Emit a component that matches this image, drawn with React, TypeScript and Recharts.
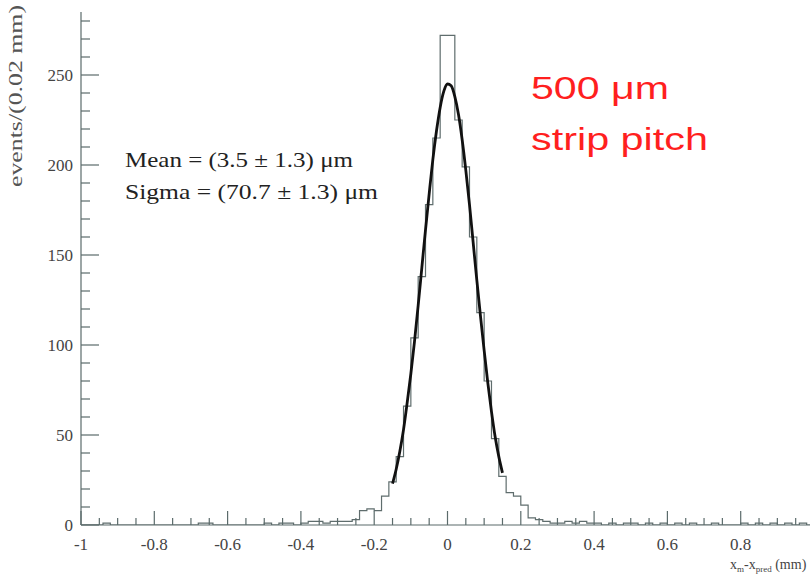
import React from 'react';
import { LineChart, Line, XAxis, YAxis } from 'recharts';

// histogram: 100 bins of 0.02 mm, left edges from -1.00 to 0.98
const binStart = -1;
const binWidth = 0.02;
const binCounts = [
  0, 0, 0, 1, 0, 0, 0, 0, 0, 0,
  0, 0, 0, 0, 0, 0, 1, 1, 0, 0,
  0, 0, 0, 0, 0, 1, 0, 1, 1, 0,
  1, 2, 2, 1, 2, 2, 2, 3, 8, 9,
  8, 16, 24, 38, 66, 104, 138, 178, 215, 272,
  272, 225, 199, 160, 118, 80, 48, 27, 18, 16,
  11, 4, 3, 2, 1, 1, 2, 1, 2, 1,
  1, 0, 1, 0, 1, 1, 0, 1, 0, 1,
  0, 1, 0, 1, 0, 0, 1, 0, 0, 0,
  1, 0, 1, 0, 1, 0, 1, 0, 1, 0,
];

// gaussian fit curve
const fitX = [
  -0.15, -0.14, -0.13, -0.12, -0.11, -0.1, -0.09, -0.08, -0.07, -0.06, -0.05, -0.04, -0.03, -0.02, -0.01,
  0, 0.01, 0.02, 0.03, 0.04, 0.05, 0.06, 0.07, 0.08, 0.09, 0.1, 0.11, 0.12, 0.13, 0.14, 0.15,
];
const fitY = [
  23, 31, 41, 53, 68, 84, 102, 122, 143, 164, 184, 203, 219, 232, 241,
  245, 244, 238, 228, 214, 197, 178, 157, 136, 116, 97, 79, 63, 49, 38, 29,
];

const xTicks = [
  -1, -0.95, -0.9, -0.85, -0.8, -0.75, -0.7, -0.65, -0.6, -0.55, -0.5, -0.45, -0.4, -0.35, -0.3, -0.25, -0.2, -0.15, -0.1, -0.05,
  0, 0.05, 0.1, 0.15, 0.2, 0.25, 0.3, 0.35, 0.4, 0.45, 0.5, 0.55, 0.6, 0.65, 0.7, 0.75, 0.8, 0.85, 0.9, 0.95, 1,
];
const xLabels = [-1, -0.8, -0.6, -0.4, -0.2, 0, 0.2, 0.4, 0.6, 0.8];
const yTicks = [0, 10, 20, 30, 40, 50, 60, 70, 80, 90, 100, 110, 120, 130, 140, 150, 160, 170, 180, 190, 200, 210, 220, 230, 240, 250, 260, 270, 280];

const histData = binCounts.map((c, i) => ({ x: Math.round((binStart + i * binWidth) * 100) / 100, y: c }));
histData.push({ x: 1, y: binCounts[binCounts.length - 1] });
const fitData = fitX.map((x, i) => ({ x, y: fitY[i] }));

const AXIS = '#5b6b6b';
const SERIF = '"Liberation Serif", "DejaVu Serif", serif';
const SANS = '"Liberation Sans", Arial, sans-serif';

const isMajorX = (v: number) => Math.abs(v * 5 - Math.round(v * 5)) < 1e-6;
const isMajorY = (v: number) => v % 50 === 0;

const BottomTick = (p: any) => {
  const v = p.payload.value;
  const major = isMajorX(v);
  const label = xLabels.find((l) => Math.abs(l - v) < 1e-6);
  return (
    <g>
      <line x1={p.x} x2={p.x} y1={p.y} y2={p.y - (major ? 14 : 7)} stroke={AXIS} strokeWidth={1.2} />
      {label !== undefined && (
        <text x={p.x} y={p.y + 25} textAnchor="middle" fontFamily={SERIF} fontSize={17} fill="#444">
          {String(label)}
        </text>
      )}
    </g>
  );
};

const TopTick = (p: any) => {
  const major = isMajorX(p.payload.value);
  return <line x1={p.x} x2={p.x} y1={p.y} y2={p.y + (major ? 14 : 7)} stroke={AXIS} strokeWidth={1.2} />;
};

const LeftTick = (p: any) => {
  const v = p.payload.value;
  const major = isMajorY(v);
  return (
    <g>
      <line x1={p.x} x2={p.x + (major ? 18 : 9)} y1={p.y} y2={p.y} stroke={AXIS} strokeWidth={1.2} />
      {major && (
        <text x={p.x - 8} y={p.y + 6} textAnchor="end" fontFamily={SERIF} fontSize={17} fill="#444">
          {v}
        </text>
      )}
    </g>
  );
};

const RightTick = (p: any) => {
  const major = isMajorY(p.payload.value);
  return <line x1={p.x} x2={p.x - (major ? 18 : 9)} y1={p.y} y2={p.y} stroke={AXIS} strokeWidth={1.2} />;
};

export default function App() {
  return (
    <div style={{ width: 810, height: 574, overflow: 'hidden', background: '#fff' }}>
      <style>{'body{margin:0}'}</style>
      <LineChart width={830} height={574} margin={{ top: 12, right: 16, bottom: 0, left: 41 }}>
        <XAxis
          dataKey="x"
          type="number"
          domain={[-1, 1]}
          ticks={xTicks}
          interval={0}
          tickSize={0}
          tickMargin={0}
          tick={BottomTick}
          height={49}
          allowDataOverflow
          axisLine={{ stroke: AXIS, strokeWidth: 1.2 }}
        />
        <XAxis
          xAxisId="top"
          orientation="top"
          type="number"
          domain={[-1, 1]}
          ticks={xTicks}
          interval={0}
          tickSize={0}
          tickMargin={0}
          tick={TopTick}
          height={0}
          allowDataOverflow
          axisLine={{ stroke: AXIS, strokeWidth: 1.2 }}
        />
        <YAxis
          type="number"
          domain={[0, 285]}
          ticks={yTicks}
          interval={0}
          tickSize={0}
          tickMargin={0}
          tick={LeftTick}
          width={40}
          allowDataOverflow
          axisLine={{ stroke: AXIS, strokeWidth: 1.2 }}
        />
        <YAxis
          yAxisId="right"
          orientation="right"
          type="number"
          domain={[0, 285]}
          ticks={yTicks}
          interval={0}
          tickSize={0}
          tickMargin={0}
          tick={RightTick}
          width={0}
          allowDataOverflow
          axisLine={{ stroke: AXIS, strokeWidth: 1.2 }}
        />
        <Line
          data={histData}
          dataKey="y"
          type="stepAfter"
          stroke="#5f6d6d"
          strokeWidth={1.2}
          dot={false}
          activeDot={false}
          isAnimationActive={false}
        />
        <Line
          data={fitData}
          dataKey="y"
          type="monotone"
          stroke="#111"
          strokeWidth={2.8}
          dot={false}
          activeDot={false}
          isAnimationActive={false}
        />
        <text x={18} y={96} transform="rotate(-90 18 96)" textAnchor="middle" dominantBaseline="middle" fontFamily={SERIF} fontSize={18} fill="#555" textLength={182} lengthAdjust="spacingAndGlyphs">
          events/(0.02 mm)
        </text>
        <text x={125} y={167} fontFamily={SERIF} fontSize={21} fill="#222" textLength={228} lengthAdjust="spacingAndGlyphs">
          Mean = (3.5 ± 1.3) μm
        </text>
        <text x={125} y={199} fontFamily={SERIF} fontSize={21} fill="#222" textLength={253} lengthAdjust="spacingAndGlyphs">
          Sigma = (70.7 ± 1.3) μm
        </text>
        <text x={531} y={99} fontFamily={SANS} fontSize={31} fill="#ff1f1f" textLength={138} lengthAdjust="spacingAndGlyphs">
          500 μm
        </text>
        <text x={531} y={150} fontFamily={SANS} fontSize={31} fill="#ff1f1f" textLength={177} lengthAdjust="spacingAndGlyphs">
          strip pitch
        </text>
        <text x={730} y={569} fontFamily={SERIF} fontSize={14} fill="#444">
          x<tspan fontSize={9} dy={3}>m</tspan>
          <tspan dy={-3}>-x</tspan>
          <tspan fontSize={9} dy={3}>pred</tspan>
          <tspan dy={-3}> (mm)</tspan>
        </text>
      </LineChart>
    </div>
  );
}
